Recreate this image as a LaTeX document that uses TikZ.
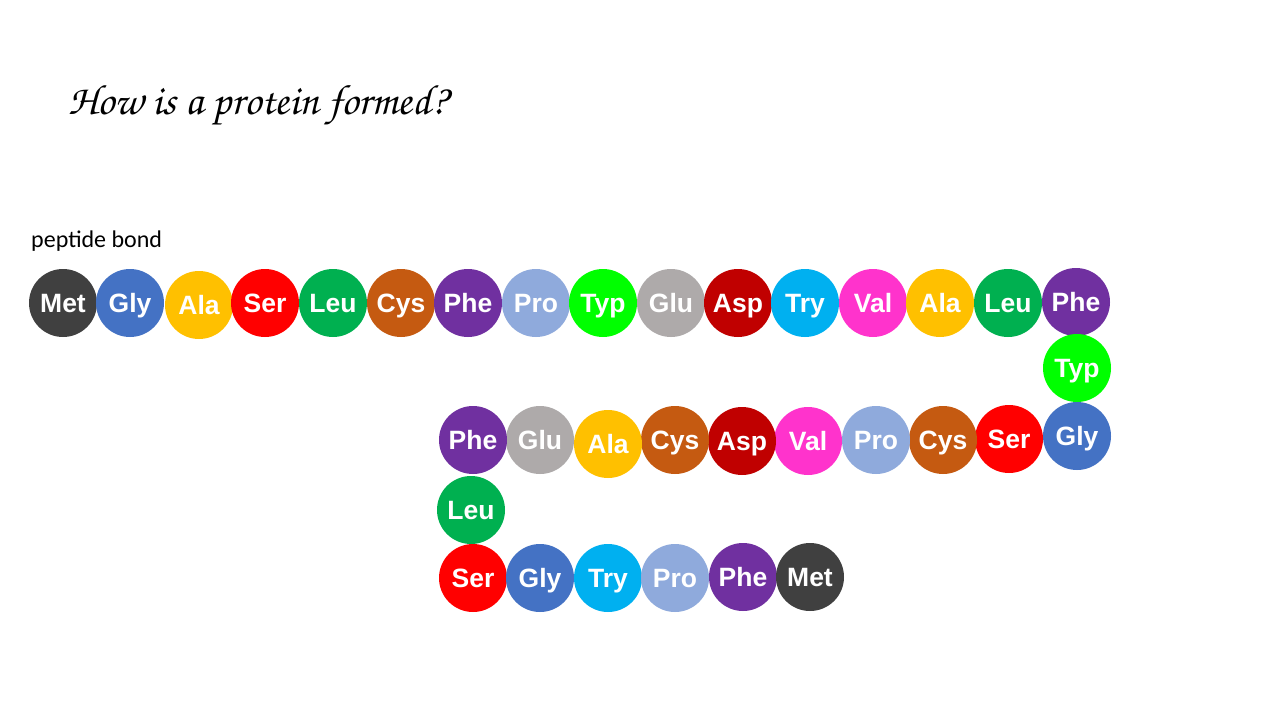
\documentclass[tikz,border=0pt]{standalone}
\usepackage{fontspec}
\setmainfont{Liberation Sans}
\newfontfamily\carlito{Carlito}
\begin{document}
\begin{tikzpicture}[x=1pt,y=-1pt,
  aa/.style={circle, minimum size=68pt, inner sep=0pt, fill=#1, text=white,
    text height=18.8pt, text depth=0pt,
    font=\fontsize{26.5}{30}\selectfont\bfseries},
  lbl/.style={inner sep=0pt, text=black}]
\definecolor{cMet}{HTML}{404040}
\definecolor{cGly}{HTML}{4472C4}
\definecolor{cAla}{HTML}{FFC000}
\definecolor{cSer}{HTML}{FF0000}
\definecolor{cLeu}{HTML}{00B050}
\definecolor{cCys}{HTML}{C55A11}
\definecolor{cPhe}{HTML}{7030A0}
\definecolor{cPro}{HTML}{8FAADC}
\definecolor{cTyp}{HTML}{00FF00}
\definecolor{cGlu}{HTML}{AEAAAA}
\definecolor{cAsp}{HTML}{C00000}
\definecolor{cTry}{HTML}{00B0F0}
\definecolor{cVal}{HTML}{FF33CC}
\useasboundingbox[fill=white] (0,0) rectangle (1280,720);
\node[lbl, anchor=base west, font={\usefont{OT1}{pzc}{m}{it}\fontsize{42.5}{46}\selectfont}] (title) at (68,114) {How is a protein formed?};
\node[lbl, anchor=base west, font={\carlito\fontsize{24}{28}\selectfont}] (pb) at (31,247) {peptide bond};
% row 1
\node[aa=cMet] (a1) at (63,303) {Met};
\node[aa=cGly] (a2) at (130,303) {Gly};
\node[aa=cAla] (a3) at (199,305) {Ala};
\node[aa=cSer] (a4) at (265,303) {Ser};
\node[aa=cLeu] (a5) at (333,303) {Leu};
\node[aa=cCys] (a6) at (401,303) {Cys};
\node[aa=cPhe] (a7) at (468,303) {Phe};
\node[aa=cPro] (a8) at (536,303) {Pro};
\node[aa=cTyp] (a9) at (603,303) {Typ};
\node[aa=cGlu] (a10) at (671,303) {Glu};
\node[aa=cAsp] (a11) at (738,303) {Asp};
\node[aa=cTry] (a12) at (805,303) {Try};
\node[aa=cVal] (a13) at (873,303) {Val};
\node[aa=cAla] (a14) at (940,303) {Ala};
\node[aa=cLeu] (a15) at (1008,303) {Leu};
\node[aa=cPhe] (a16) at (1076,302) {Phe};
% turn
\node[aa=cTyp] (a17) at (1077,368) {Typ};
\node[aa=cGly] (a18) at (1077,436) {Gly};
% row 2
\node[aa=cSer] (a19) at (1009,439) {Ser};
\node[aa=cCys] (a20) at (943,440) {Cys};
\node[aa=cPro] (a21) at (876,440) {Pro};
\node[aa=cVal] (a22) at (808,441) {Val};
\node[aa=cAsp] (a23) at (742,441) {Asp};
\node[aa=cCys] (a24) at (675,440) {Cys};
\node[aa=cAla] (a25) at (608,444) {Ala};
\node[aa=cGlu] (a26) at (540,440) {Glu};
\node[aa=cPhe] (a27) at (473,440) {Phe};
% turn
\node[aa=cLeu] (a28) at (471,510) {Leu};
% row 3
\node[aa=cSer] (a29) at (473,578) {Ser};
\node[aa=cGly] (a30) at (540,578) {Gly};
\node[aa=cTry] (a31) at (608,578) {Try};
\node[aa=cPro] (a32) at (675,578) {Pro};
\node[aa=cPhe] (a33) at (743,577) {Phe};
\node[aa=cMet] (a34) at (810,577) {Met};
\end{tikzpicture}
\end{document}
